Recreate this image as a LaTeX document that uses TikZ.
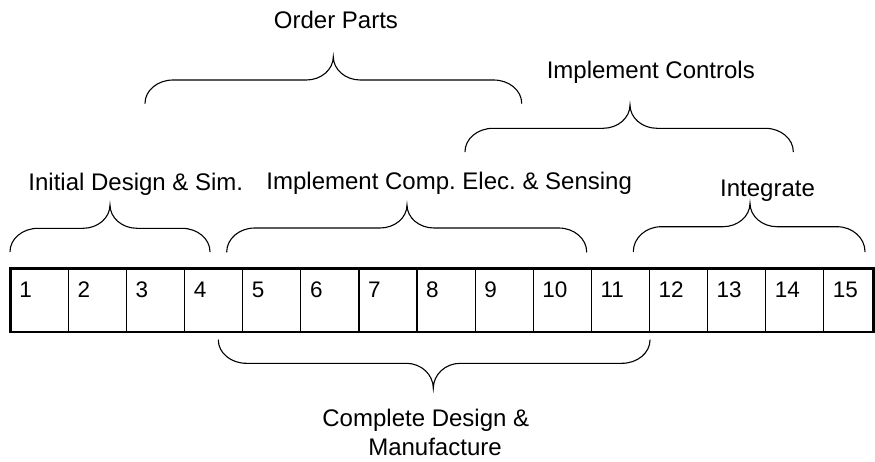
\documentclass[tikz,border=0pt]{standalone}
\usepackage{fontspec}
\setmainfont{Liberation Sans}
\frenchspacing
\tikzset{
  bracestyle/.style={line width=1.1pt, line cap=round},
  lbl/.style={font=\fontsize{24}{29}\selectfont, anchor=base, inner sep=0pt},
  digit/.style={font=\fontsize{22.5}{27}\selectfont, anchor=base west, inner sep=0pt},
  cell/.style={draw, line width=1.2pt, minimum height=63.3pt, anchor=north west, inner sep=0pt, outer sep=0pt},
  outerbox/.style={line width=2.6pt},
}
% brace: #1 x left, #2 x right, #3 y of the ends, #4 y of the straight part, #5 x of tip, #6 y of tip
\newcommand\mybrace[6]{%
  \draw[bracestyle] (#1,#3)
    .. controls (#1,{#3-0.552*(#3-#4)}) and ({#1+28-0.552*28},#4) .. ({#1+28},#4)
    -- ({#5-27},#4)
    .. controls ({#5-27+0.552*27},#4) and (#5,{#6+0.552*(#4-#6)}) .. (#5,#6)
    .. controls (#5,{#6+0.552*(#4-#6)}) and ({#5+27-0.552*27},#4) .. ({#5+27},#4)
    -- ({#2-28},#4)
    .. controls ({#2-28+0.552*28},#4) and (#2,{#3-0.552*(#3-#4)}) .. (#2,#3);}
\begin{document}
\begin{tikzpicture}[x=1pt,y=-1pt]
\useasboundingbox (0,0) rectangle (875,461);
% cells
\foreach \i in {1,...,14}{
  \node[cell, minimum width=58.1pt] (c\i) at ({10.3+58.1*(\i-1)},268.7) {};
}
\node[cell, minimum width=49.6pt] (c15) at ({10.3+58.1*14},268.7) {};
\foreach \i in {1,...,15}{
  \node[digit] (d\i) at ({10.3+58.1*(\i-1)+9},297.3) {\i};
}
\draw[outerbox] (c1.north west) rectangle (c15.south east);
% braces
\mybrace{10}{210}{251.7}{228.3}{110}{205}
\mybrace{226.7}{586.7}{252}{228}{407}{205}
\mybrace{633.3}{865}{251.7}{226.7}{750}{203.3}
\mybrace{465}{793.3}{151.7}{128.3}{630}{105}
\mybrace{145}{521.7}{103.3}{80}{333.3}{56.7}
\mybrace{218.3}{650}{340}{363.3}{433.3}{388.3}
% labels
\node[lbl] (tOrder) at (336,28.3) {Order Parts};
\node[lbl] (tCtrl) at (650.8,78.3) {Implement Controls};
\node[lbl] (tInit) at (135.8,190) {Initial Design \& Sim.};
\node[lbl] (tComp) at (449.2,189.5) {Implement Comp. Elec. \& Sensing};
\node[lbl] (tInt) at (767.5,196.7) {Integrate};
\node[lbl] (tMan1) at (425.8,426.7) {Complete Design \&};
\node[lbl] (tMan2) at (435,455) {Manufacture};
\end{tikzpicture}
\end{document}
